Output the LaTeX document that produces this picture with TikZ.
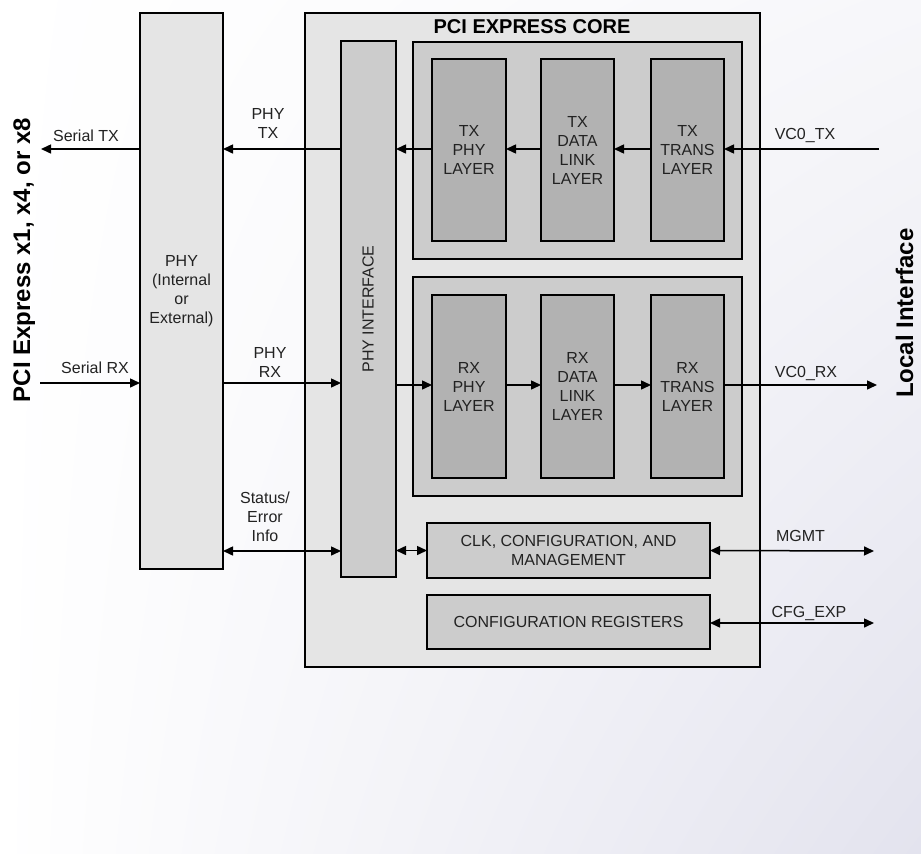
\documentclass[tikz,border=0pt]{standalone}
\usepackage{fontspec}
\setmainfont{Liberation Sans}
\usetikzlibrary{arrows.meta,shadings}
\definecolor{boxA}{HTML}{E5E5E5}
\definecolor{boxB}{HTML}{CCCCCC}
\definecolor{boxC}{HTML}{B2B2B2}
\definecolor{bgR}{HTML}{E3E3EE}
\definecolor{bgTR}{HTML}{F7F7FA}
\definecolor{txtgray}{HTML}{222222}
\begin{document}
\begin{tikzpicture}[x=1pt,y=-1pt,
  every node/.style={font=\fontsize{16}{19}\selectfont, text=txtgray},
  blk/.style={draw=black, line width=1.6pt, inner sep=0pt, outer sep=0pt, align=center},
  lightblk/.style={blk, fill=boxA},
  midblk/.style={blk, fill=boxB},
  darkblk/.style={blk, fill=boxC, minimum width=73pt},
  arr/.style={line width=1.5pt, -{Triangle[length=10pt,width=9pt]}},
  darr/.style={line width=1.5pt, {Triangle[length=10pt,width=9pt]}-{Triangle[length=10pt,width=9pt]}},
  lbl/.style={align=center, inner sep=0pt},
  biglbl/.style={font=\fontsize{24}{28}\selectfont\bfseries, text=black, rotate=90, anchor=base, inner sep=0pt}
]
\useasboundingbox (0,0) rectangle (921,854);
\shade[upper left=white, lower left=white, upper right=bgTR, lower right=bgR] (0,0) rectangle (921,854);

% main blocks
\node[lightblk, minimum width=83pt, minimum height=556pt] (phy) at (181.5,291) {PHY\\(Internal\\or\\External)};
\node[lightblk, minimum width=455pt, minimum height=654pt] (core) at (532.5,340) {};
\node[font=\fontsize{20}{22}\selectfont\bfseries, text=black, inner sep=0pt] (coretitle) at (532,27) {PCI EXPRESS CORE};
\node[midblk, minimum width=55pt, minimum height=536pt] (phyif) at (368.5,309) {};
\node[rotate=90, inner sep=0pt] (phyiftext) at (368,309) {PHY INTERFACE};

\node[midblk, minimum width=329pt, minimum height=217pt] (txg) at (577.5,150.5) {};
\node[midblk, minimum width=329pt, minimum height=219pt] (rxg) at (577.5,386.5) {};

\node[darkblk, minimum width=74pt, minimum height=182pt] (txphy) at (469,150) {TX\\PHY\\LAYER};
\node[darkblk, minimum height=182pt] (txdl) at (577.5,150) {TX\\DATA\\LINK\\LAYER};
\node[darkblk, minimum height=182pt] (txtr) at (687.5,150) {TX\\TRANS\\LAYER};

\node[darkblk, minimum width=74pt, minimum height=183pt] (rxphy) at (469,386.5) {RX\\PHY\\LAYER};
\node[darkblk, minimum height=183pt] (rxdl) at (577.5,386.5) {RX\\DATA\\LINK\\LAYER};
\node[darkblk, minimum height=183pt] (rxtr) at (687.5,386.5) {RX\\TRANS\\LAYER};

\node[midblk, minimum width=283pt, minimum height=55pt] (clk) at (568.5,550.5) {CLK, CONFIGURATION, AND\\MANAGEMENT};
\node[midblk, minimum width=283pt, minimum height=54pt] (cfg) at (568.5,622) {CONFIGURATION REGISTERS};

% free ends
\coordinate (serialtx) at (41,149);
\coordinate (serialrx) at (40,383);
\coordinate (vctx) at (879,149);
\coordinate (vcrx) at (877,385);
\coordinate (mgmt) at (874,551);
\coordinate (cfgexp) at (874,623);
\coordinate (txrow) at (0,149);
\coordinate (rxrow) at (0,383);
\coordinate (rxin) at (0,385);
\coordinate (strow) at (0,551);

% TX path
\draw[arr] (phy.west |- txrow) -- (serialtx);
\draw[arr] (phyif.west |- txrow) -- (phy.east |- txrow);
\draw[arr] (txphy.west |- txrow) -- (phyif.east |- txrow);
\draw[arr] (txdl.west |- txrow) -- (txphy.east |- txrow);
\draw[arr] (txtr.west |- txrow) -- (txdl.east |- txrow);
\draw[arr] (vctx) -- (txtr.east |- txrow);

% RX path
\draw[arr] (serialrx) -- (phy.west |- serialrx);
\draw[arr] (phy.east |- rxrow) -- (phyif.west |- rxrow);
\draw[arr] (phyif.east |- rxin) -- (rxphy.west |- rxin);
\draw[arr] (rxphy.east |- rxin) -- (rxdl.west |- rxin);
\draw[arr] (rxdl.east |- rxin) -- (rxtr.west |- rxin);
\draw[arr] (rxtr.east |- rxin) -- (vcrx);

% status / management
\draw[darr] (phy.east |- strow) -- (phyif.west |- strow);
\draw[darr] (phyif.east |- clk.west) -- (clk.west);
\draw[darr] (clk.east) -- (mgmt);
\draw[darr] (cfg.east |- cfgexp) -- (cfgexp);

% labels
\node[lbl] (lsertx) at (86,136) {Serial TX};
\node[lbl] (lserrx) at (95,368) {Serial RX};
\node[lbl] (lphytx) at (268,123.5) {PHY\\TX};
\node[lbl] (lphyrx) at (270,362.5) {PHY\\RX};
\node[lbl] (lstatus) at (265,516.5) {Status/\\Error\\Info};
\node[lbl] (lvctx) at (805,136) {VC0\_TX};
\node[lbl] (lvcrx) at (806,373) {VC0\_RX};
\node[lbl] (lmgmt) at (800.5,536) {MGMT};
\node[lbl] (lcfg) at (809,613) {CFG\_EXP};

\node[biglbl] (pcie) at (30,260) {PCI Express x1, x4, or x8};
\node[biglbl] (local) at (913,313) {Local Interface};
\end{tikzpicture}
\end{document}
